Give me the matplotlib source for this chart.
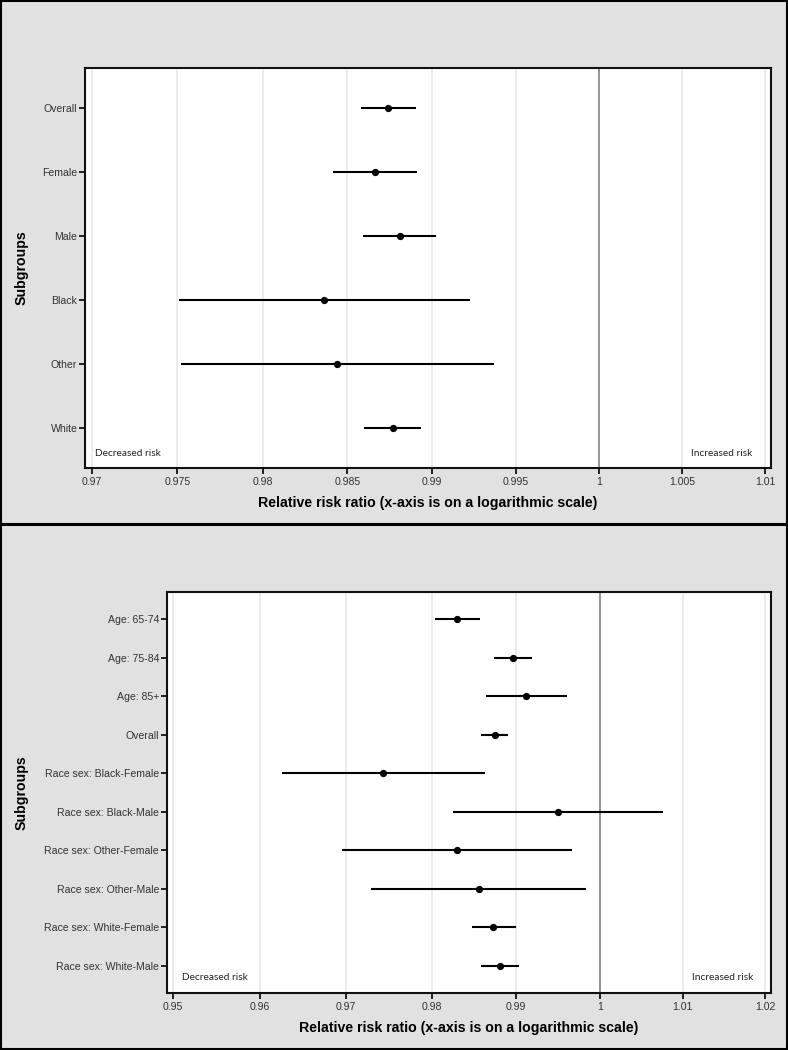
import matplotlib
matplotlib.use("Agg")
import matplotlib.pyplot as plt
from matplotlib.patches import Rectangle
from matplotlib.ticker import FixedLocator, FixedFormatter, NullLocator

# ---------------- data ----------------
top_labels = ["Overall", "Female", "Male", "Black", "Other", "White"]
top_rr = [0.98741, 0.98664, 0.98810, 0.98362, 0.98441, 0.98769]
top_lo = [0.98579, 0.98417, 0.98594, 0.97510, 0.97520, 0.98600]
top_hi = [0.98905, 0.98914, 0.99027, 0.99226, 0.99371, 0.98936]
top_ticks = [0.97, 0.975, 0.98, 0.985, 0.99, 0.995, 1.0, 1.005, 1.01]
top_ticklabels = ["0.97", "0.975", "0.98", "0.985", "0.99", "0.995", "1", "1.005", "1.01"]

bottom_labels = ["Age: 65-74", "Age: 75-84", "Age: 85+", "Overall",
                 "Race sex: Black-Female", "Race sex: Black-Male",
                 "Race sex: Other-Female", "Race sex: Other-Male",
                 "Race sex: White-Female", "Race sex: White-Male"]
bottom_rr = [0.98302, 0.98961, 0.99116, 0.98744, 0.97432, 0.99497, 0.98298, 0.98555, 0.98727, 0.98804]
bottom_lo = [0.98039, 0.98739, 0.98641, 0.98582, 0.96259, 0.98248, 0.96951, 0.97292, 0.98475, 0.98585]
bottom_hi = [0.98570, 0.99187, 0.99601, 0.98905, 0.98626, 1.00763, 0.99668, 0.99836, 0.98993, 0.99029]
bottom_ticks = [0.95, 0.96, 0.97, 0.98, 0.99, 1.0, 1.01, 1.02]
bottom_ticklabels = ["0.95", "0.96", "0.97", "0.98", "0.99", "1", "1.01", "1.02"]

xlabel_text = "Relative risk ratio (x-axis is on a logarithmic scale)"
ylabel_text = "Subgroups"

# ---------------- style ----------------
W, H = 788, 1050
plt.rcParams['font.family'] = ['Liberation Sans', 'DejaVu Sans']
BG = "#e1e1e1"
TICKC = "#333333"

fig = plt.figure(figsize=(W / 100, H / 100), dpi=100)
fig.patch.set_facecolor(BG)

# panel borders
fig.patches.append(Rectangle((0.5 / W, 1 - 523.5 / H), (W - 1.5) / W, 522.5 / H,
                             transform=fig.transFigure, fill=False,
                             edgecolor="black", linewidth=1.5, zorder=0))
fig.patches.append(Rectangle((0.5 / W, 0.8 / H), (W - 1.5) / W, (H - 524.5 - 0.8) / H,
                             transform=fig.transFigure, fill=False,
                             edgecolor="black", linewidth=1.5, zorder=0))


def panel(rect_px, labels, rr, lo, hi, ticks, ticklabels, xlim, ymargin,
          ylabel_x, dec_xy, inc_xy, xlabel_y):
    l, t, r, b = rect_px
    ax = fig.add_axes([l / W, 1 - b / H, (r - l) / W, (b - t) / H])
    ax.set_facecolor("white")
    ax.set_xscale("log")
    n = len(labels)
    ypos = list(range(n))
    ax.set_xlim(*xlim)
    ax.set_ylim(n - 1 + ymargin, -ymargin)

    for tv in ticks:
        if tv == 1.0:
            ax.axvline(tv, color="#8c8c8c", linewidth=1.3, zorder=1)
        else:
            ax.axvline(tv, color="#ebebeb", linewidth=1.3, zorder=0.5)

    ax.hlines(ypos, lo, hi, color="black", linewidth=1.5, zorder=2)
    ax.plot(rr, ypos, "o", color="black", markersize=4.2, zorder=3)

    ax.xaxis.set_major_locator(FixedLocator(ticks))
    ax.xaxis.set_major_formatter(FixedFormatter(ticklabels))
    ax.xaxis.set_minor_locator(NullLocator())
    ax.set_yticks(ypos)
    ax.set_yticklabels(labels)
    ax.tick_params(axis="both", which="major", direction="out", length=4,
                   width=1.2, color="black", labelsize=7.6, labelcolor=TICKC)
    ax.tick_params(axis="y", pad=1.5)
    ax.tick_params(axis="x", pad=2.5)
    for s in ax.spines.values():
        s.set_linewidth(1.5)
        s.set_color("#111111")

    ax.set_xlabel(xlabel_text, fontsize=10.2, fontweight="bold", color="black")
    ax.xaxis.label.set_va("center")
    ax.xaxis.set_label_coords(0.5, xlabel_y)
    ax.set_ylabel(ylabel_text, fontsize=10.2, fontweight="bold", color="black")
    ax.yaxis.label.set_va("center")
    ax.yaxis.set_label_coords(ylabel_x, 0.5)

    ax.text(dec_xy[0], dec_xy[1], "Decreased risk", transform=ax.transAxes,
            ha="left", va="center", fontsize=7.3, family=["Lato", "DejaVu Sans"],
            color="#222222")
    ax.text(inc_xy[0], inc_xy[1], "Increased risk", transform=ax.transAxes,
            ha="right", va="center", fontsize=7.3, family=["Lato", "DejaVu Sans"],
            color="#222222")
    return ax


panel((85, 68, 771, 468), top_labels, top_rr, top_lo, top_hi,
      top_ticks, top_ticklabels, (0.96961, 1.01036), 0.63,
      (22 - 85) / 686, (10 / 686, 14 / 400), (1 - 18.7 / 686, 15 / 400),
      (468 - 502.7) / 400)

panel((166.7, 592.3, 771, 992.5), bottom_labels, bottom_rr, bottom_lo, bottom_hi,
      bottom_ticks, bottom_ticklabels, (0.94932, 1.02074), 0.694,
      (22 - 166.7) / 604.3, (15.6 / 604.3, 14.8 / 400.2), (1 - 18 / 604.3, 14.8 / 400.2),
      (992.5 - 1027.7) / 400.2)

fig.savefig("out.png", dpi=100, facecolor=BG)
